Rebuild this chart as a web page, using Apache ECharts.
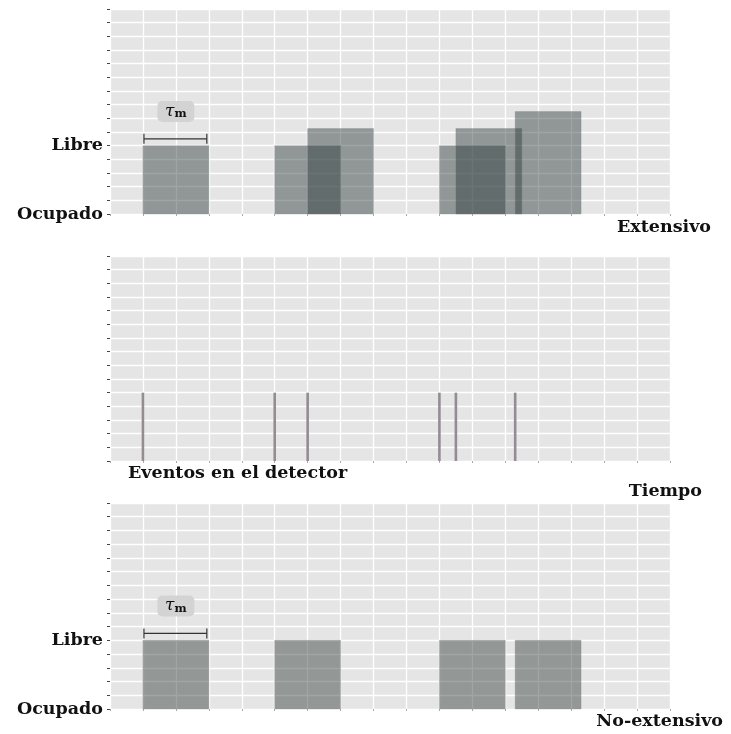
<!DOCTYPE html>
<html>
<head>
<meta charset="utf-8">
<script src="https://cdn.jsdelivr.net/npm/echarts@6/dist/echarts.min.js"></script>
<style>html,body{margin:0;padding:0;background:#fff;}#c{width:731px;height:734px;}</style>
</head>
<body>
<div id="c"></div>
<script>
// ---- data ----
const extStarts = [1, 5, 6, 10, 10.5, 12.3];
const extHeights = [1, 1, 1.25, 1, 1.25, 1.5];
const nonExtStarts = [1, 5, 10, 12.3];
const nonExtHeights = [1, 1, 1, 1];
const eventTimes = [1, 5, 6, 10, 10.5, 12.3];
const eventHeights = [1, 1, 1, 1, 1, 1];
const deadTime = 2;            // tau_m
const tauStart = 1;
const tauLevel = 1.1;
const tauLabelLevel = 1.5;
const stateValues = [0, 1];
const stateLabels = ['Ocupado', 'Libre'];
const detectorMarkX = 4;
const xMax = 17, yMax = 3;

const FONT = 'DejaVu Serif';
const FS = 17.5;
const barColor = 'rgba(46,58,58,0.46)';
const bg = '#e5e5e5';

function rectItem(color) {
  return function (params, api) {
    const s = api.value(0), h = api.value(1);
    const p0 = api.coord([s, 0]);
    const p1 = api.coord([s + deadTime, h]);
    return {
      type: 'rect',
      shape: { x: p0[0], y: p1[1], width: p1[0] - p0[0], height: p0[1] - p1[1] },
      style: { fill: color, stroke: 'rgba(120,125,125,0.35)', lineWidth: 0.8 }
    };
  };
}

function tauItem(params, api) {
  const a = api.coord([api.value(0), api.value(1)]);
  const b = api.coord([api.value(0) + deadTime, api.value(1)]);
  const c = api.coord([api.value(0) + deadTime / 2, api.value(2)]);
  const tk = 5;
  return {
    type: 'group',
    children: [
      { type: 'line', shape: { x1: a[0] + 1, y1: a[1], x2: b[0] - 2, y2: b[1] }, style: { stroke: '#333', lineWidth: 1.2 } },
      { type: 'line', shape: { x1: a[0] + 1, y1: a[1] - tk, x2: a[0] + 1, y2: a[1] + tk }, style: { stroke: '#333', lineWidth: 1.2 } },
      { type: 'line', shape: { x1: b[0] - 2, y1: b[1] - tk, x2: b[0] - 2, y2: b[1] + tk }, style: { stroke: '#333', lineWidth: 1.2 } },
      { type: 'rect', shape: { x: c[0] - 18.5, y: c[1] - 10.5, width: 37, height: 21, r: 5 }, style: { fill: '#d3d3d3' } },
      { type: 'text', x: c[0], y: c[1], style: {
          text: '{t|τ}{s|m}', align: 'center', verticalAlign: 'middle',
          rich: {
            t: { fontFamily: FONT, fontStyle: 'italic', fontSize: 17, fill: '#111', verticalAlign: 'middle', lineHeight: 18 },
            s: { fontFamily: FONT, fontWeight: 'bold', fontSize: 11.5, fill: '#111', verticalAlign: 'bottom', lineHeight: 18, padding: [7, 0, 0, 0] }
          }
        } }
    ]
  };
}

function eventItem(params, api) {
  const p0 = api.coord([api.value(0), 0]);
  const p1 = api.coord([api.value(0), api.value(1)]);
  return { type: 'line', shape: { x1: p0[0], y1: p0[1], x2: p1[0], y2: p1[1] }, style: { stroke: '#938c93', lineWidth: 2.6 } };
}

const grids = [
  { left: 110, top: 9, width: 560, height: 205, backgroundColor: bg, show: true, borderWidth: 0 },
  { left: 110, top: 256, width: 560, height: 205, backgroundColor: bg, show: true, borderWidth: 0 },
  { left: 110, top: 503, width: 560, height: 206, backgroundColor: bg, show: true, borderWidth: 0 }
];

function xAx(i) {
  return {
    type: 'value', gridIndex: i, min: 0, max: xMax, interval: 1,
    axisLine: { show: false },
    axisTick: { show: true, length: 2, lineStyle: { color: '#aaa' } },
    axisLabel: { show: false },
    splitLine: { show: true, lineStyle: { color: '#ffffff', width: 1.3 } }
  };
}
function yAx(i, labels) {
  return {
    type: 'value', gridIndex: i, min: 0, max: yMax, interval: 0.2,
    axisLine: { show: false },
    axisTick: { show: true, length: 3, lineStyle: { color: '#444' } },
    axisLabel: {
      show: labels, margin: 7, fontFamily: FONT, fontWeight: 'bold', fontSize: FS, color: '#111',
      formatter: function (v) {
        for (let k = 0; k < stateValues.length; k++) if (Math.abs(v - stateValues[k]) < 1e-6) return stateLabels[k];
        return '';
      }
    },
    splitLine: { show: true, lineStyle: { color: '#ffffff', width: 1.3 } }
  };
}

const option = {
  animation: false,
  backgroundColor: '#fff',
  grid: grids,
  xAxis: [xAx(0), xAx(1), xAx(2)],
  yAxis: [yAx(0, true), yAx(1, false), yAx(2, true)],
  series: [
    { type: 'custom', xAxisIndex: 0, yAxisIndex: 0, renderItem: rectItem(barColor),
      data: extStarts.map((s, i) => [s, extHeights[i]]) },
    { type: 'custom', xAxisIndex: 0, yAxisIndex: 0, renderItem: tauItem, data: [[tauStart, tauLevel, tauLabelLevel]] },
    { type: 'line', xAxisIndex: 1, yAxisIndex: 1, data: [], symbol: 'none',
      markLine: { silent: true, symbol: 'none', label: { show: false }, lineStyle: { color: '#ffffff', width: 2, type: 'solid' },
        data: [{ xAxis: detectorMarkX }] } },
    { type: 'custom', xAxisIndex: 1, yAxisIndex: 1, renderItem: eventItem,
      data: eventTimes.map((t, i) => [t, eventHeights[i]]) },
    { type: 'custom', xAxisIndex: 2, yAxisIndex: 2, renderItem: rectItem('rgba(58,70,64,0.48)'),
      data: nonExtStarts.map((s, i) => [s, nonExtHeights[i]]) },
    { type: 'custom', xAxisIndex: 2, yAxisIndex: 2, renderItem: tauItem, data: [[tauStart, tauLevel, tauLabelLevel]] }
  ],
  graphic: [
    { type: 'text', right: 20, top: 218, style: { text: 'Extensivo', fontFamily: FONT, fontWeight: 'bold', fontSize: FS, fill: '#111' } },
    { type: 'text', left: 128, top: 464, style: { text: 'Eventos en el detector', fontFamily: FONT, fontWeight: 'bold', fontSize: FS, fill: '#111' } },
    { type: 'text', right: 29, top: 482, style: { text: 'Tiempo', fontFamily: FONT, fontWeight: 'bold', fontSize: FS, fill: '#111' } },
    { type: 'text', right: 8, top: 712, style: { text: 'No-extensivo', fontFamily: FONT, fontWeight: 'bold', fontSize: FS, fill: '#111' } }
  ]
};

const chart = echarts.init(document.getElementById('c'), null, { renderer: 'canvas' });
chart.setOption(option);
</script>
</body>
</html>
